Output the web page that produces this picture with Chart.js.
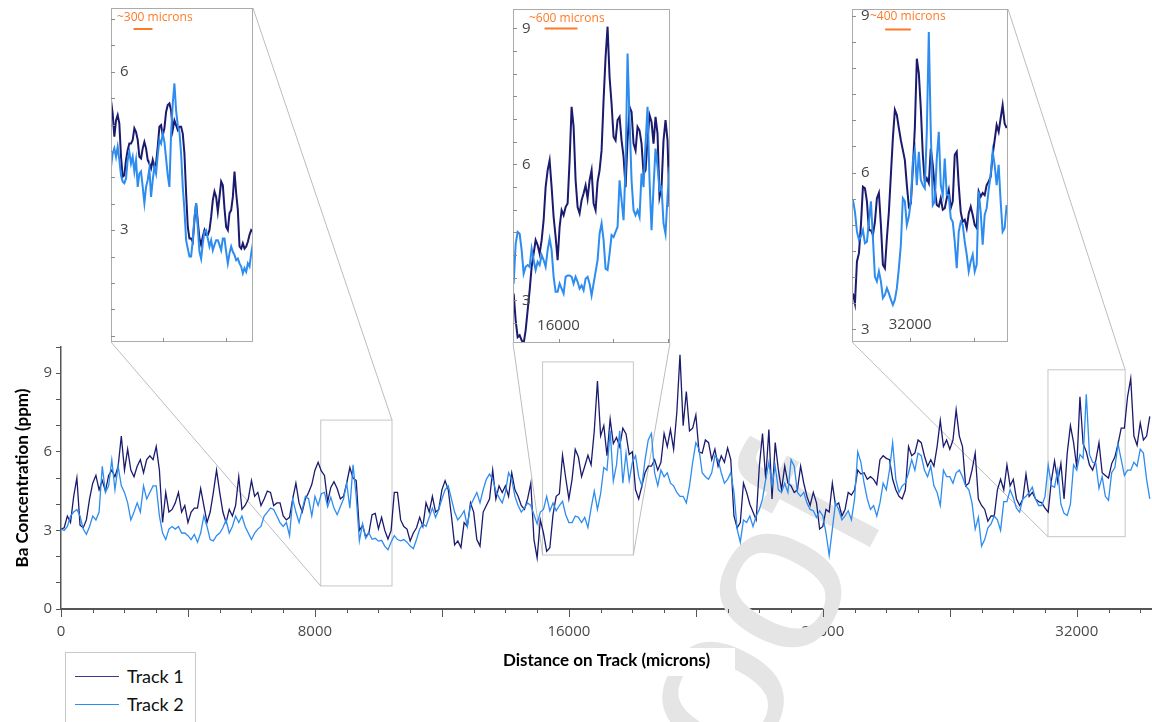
<!DOCTYPE html>
<html>
<head>
<meta charset="utf-8">
<title>Ba Concentration along tracks</title>
<script src="https://cdn.jsdelivr.net/npm/chart.js@4.4.1/dist/chart.umd.min.js"></script>
<style>
  html, body { margin: 0; padding: 0; background: #fff; }
  #page { position: relative; width: 1152px; height: 722px; overflow: hidden; background: #fff; }
  canvas { position: absolute; display: block; }
  #legend {
    position: absolute; left: 65px; top: 652px; width: 131px; height: 90px;
    border: 1px solid #c9c9c9; box-sizing: border-box; background: #fff;
    font-family: Lato, sans-serif; font-size: 18px; color: #111;
  }
  #legend .row { position: absolute; left: 9px; height: 22px; display: flex; align-items: center; }
  #legend .sw { display: inline-block; width: 44px; height: 0; border-top: 1.5px solid; margin-right: 8px; }
</style>
</head>
<body>
<div id="page">
  <canvas id="main" width="1152" height="722" style="left:0;top:0"></canvas>
  <canvas id="inset1" width="142" height="334" style="left:111px;top:8px"></canvas>
  <canvas id="inset2" width="157" height="334" style="left:513px;top:9px"></canvas>
  <canvas id="inset3" width="156" height="333" style="left:852px;top:9px"></canvas>
  <div id="legend">
    <div class="row" style="top:12px"><span class="sw" style="border-color:#3b3b8f"></span>Track 1</div>
    <div class="row" style="top:40px"><span class="sw" style="border-color:#2d8cf0"></span>Track 2</div>
  </div>
</div>
<script>
// Ba concentration (ppm) sampled every 100 microns along each track, from 0 microns
const SAMPLE_STEP = 100;
const track1 = [
  3.05,3.1,3.55,3.3,4.3,5.0,3.2,3.1,3.4,4.2,
  4.8,5.1,4.55,4.9,4.5,5.1,5.3,5.05,5.45,6.6,
  5.3,6.1,5.3,5.05,5.45,5.7,5.2,5.7,5.85,5.7,
  6.2,5.3,3.3,4.45,3.7,3.8,4.05,4.45,3.7,3.95,
  3.3,3.7,3.85,3.85,4.6,3.95,3.3,3.7,4.45,5.3,
  4.45,3.7,3.3,3.8,3.55,3.95,5.05,3.8,3.95,4.2,
  4.9,4.3,4.45,3.95,4.2,4.5,4.45,3.95,4.05,4.05,
  3.55,3.4,3.5,4.2,4.8,4.05,3.7,4.2,4.45,4.75,
  5.3,5.6,5.27,5.1,4.1,4.64,4.86,4.6,4.2,4.3,
  4.8,5.4,5.0,4.9,3.0,3.19,2.75,2.91,3.6,3.65,
  3.06,3.5,3.0,2.67,3.0,4.45,4.45,3.4,3.15,3.05,
  2.6,2.9,3.1,3.5,3.15,4.05,3.7,4.3,3.7,3.8,
  4.55,4.9,4.55,3.55,2.45,2.6,2.35,3.3,3.15,4.05,
  3.7,2.65,2.4,3.7,3.95,4.2,5.3,4.2,4.7,4.45,
  4.7,4.3,5.2,4.55,4.3,3.95,3.8,4.2,4.8,2.65,
  1.95,3.4,2.9,2.2,2.34,3.6,4.3,4.4,5.87,5.0,
  4.2,4.95,6.09,5.8,5.05,5.45,5.87,5.5,6.8,8.7,
  6.61,7.0,5.85,7.25,6.31,6.55,6.2,6.9,6.68,5.9,
  6.0,4.55,4.2,4.7,5.2,5.45,5.45,5.7,5.3,5.6,
  6.7,6.2,6.85,6.1,7.5,9.7,7.0,8.3,6.8,6.9,
  7.4,6.0,5.95,6.45,6.35,5.7,6.1,5.45,5.85,5.6,
  6.15,5.7,3.55,3.1,3.3,4.8,4.45,4.0,3.7,3.4,
  5.45,6.7,4.95,6.85,4.2,6.35,5.3,4.55,5.45,4.8,
  4.7,4.45,4.55,5.45,4.8,4.3,3.95,4.45,4.05,3.05,
  3.15,3.8,3.7,4.8,3.95,4.05,3.55,3.8,4.45,4.35,
  4.55,5.3,5.15,5.2,4.95,5.05,4.95,4.75,5.7,5.85,
  5.75,5.7,4.95,4.55,4.3,4.2,4.55,6.2,5.85,5.95,
  6.45,6.35,5.85,5.45,5.7,5.45,6.2,7.2,6.2,6.45,
  6.1,6.45,7.6,6.6,6.2,4.7,4.8,5.3,5.95,4.2,
  3.95,3.8,3.35,3.55,3.55,4.55,4.95,4.55,5.5,4.7,
  4.95,4.2,3.95,4.2,5.15,4.3,4.45,4.2,4.1,4.05,
  3.85,3.7,4.9,5.65,4.85,5.55,4.2,5.96,7.0,6.35,
  5.4,8.1,6.3,6.0,5.5,5.3,5.67,6.35,5.2,5.1,
  5.0,5.55,5.8,6.3,6.9,6.9,8.1,8.8,6.6,6.25,
  7.1,6.45,6.6,7.35
];
const track2 = [
  3.05,3.0,3.15,3.55,3.7,3.8,3.55,3.05,2.85,3.15,
  3.55,3.4,3.7,5.45,4.45,4.7,5.7,4.55,5.45,4.7,
  4.45,4.05,3.4,3.7,4.05,3.7,4.7,4.2,4.45,4.7,
  4.7,3.55,2.9,2.65,3.05,3.15,3.05,3.15,2.9,2.9,
  2.8,2.65,2.85,2.55,2.9,3.55,3.15,2.65,2.6,2.8,
  2.9,3.1,3.4,2.9,3.15,3.55,3.3,3.55,3.15,2.9,
  2.65,2.9,3.05,3.15,3.55,3.7,3.85,3.8,3.55,3.3,
  3.15,3.3,2.8,4.2,3.7,3.3,3.8,4.3,4.2,3.55,
  4.3,3.95,4.4,4.45,3.9,4.26,3.85,3.6,3.9,4.2,
  4.8,3.85,5.5,4.3,2.6,3.25,2.7,2.9,2.66,2.7,
  2.59,2.62,2.4,2.26,2.56,2.8,2.65,2.6,2.65,2.55,
  2.4,2.3,2.65,3.05,3.25,3.15,3.5,3.85,3.5,3.8,
  4.2,4.55,4.7,4.2,3.7,3.4,3.55,3.75,3.15,3.95,
  4.2,4.45,4.05,4.55,4.95,5.15,4.95,4.5,4.25,4.05,
  4.45,5.2,4.95,4.3,3.95,3.7,3.85,4.05,3.95,3.6,
  3.25,3.7,3.8,4.3,3.74,4.05,3.75,3.95,4.11,3.6,
  3.3,3.3,3.55,3.5,3.3,3.5,3.11,3.85,4.5,3.8,
  4.4,5.4,5.3,6.8,4.88,5.5,6.8,4.8,5.95,4.9,
  5.6,5.85,5.05,4.7,5.7,6.45,6.7,5.2,4.7,5.3,
  5.05,5.2,4.8,4.7,4.45,4.3,4.3,4.05,4.7,5.6,
  6.35,6.1,5.2,5.05,4.95,5.2,5.85,5.7,5.2,4.8,
  4.95,5.2,4.45,3.05,2.55,3.4,3.3,3.55,3.15,3.55,
  3.8,4.2,4.95,5.6,4.7,5.45,4.55,4.45,4.8,4.45,
  5.7,5.45,4.45,4.3,4.45,4.05,3.8,3.75,3.5,3.75,
  3.55,2.9,2.05,3.05,4.05,3.8,3.4,3.55,3.75,3.4,
  4.2,6.0,5.6,4.8,4.2,3.8,3.95,3.55,4.05,4.8,
  4.55,5.3,6.35,4.95,4.45,4.7,4.8,5.2,5.7,5.3,
  5.95,5.85,5.3,5.05,5.45,4.7,4.45,3.95,5.3,5.05,
  5.05,4.8,5.2,5.3,5.05,4.7,4.55,4.05,3.05,3.5,
  2.4,2.65,3.1,3.25,3.55,3.4,3.0,4.1,4.1,4.55,
  4.25,3.85,3.7,4.2,4.3,4.45,4.65,4.2,3.95,3.95,
  4.3,5.5,4.71,4.65,5.3,4.0,3.65,3.57,4.0,5.5,
  5.3,5.9,5.75,8.2,5.9,5.6,5.57,4.6,5.05,4.3,
  4.15,5.2,5.4,6.3,5.7,5.1,5.3,5.3,5.6,5.45,
  6.1,5.95,4.95,4.2
];

// Finer sampling inside the three magnified windows
const inset1Start = 8182, inset1Step = 26.4;
const inset1Track1 = [
  5.46,5.21,4.77,5.08,5.18,5.02,4.39,4.01,4.04,4.33,
  4.52,4.64,4.64,4.71,4.93,4.86,4.71,4.39,4.36,4.55,
  4.67,4.55,4.33,4.26,4.17,4.33,4.2,4.26,4.58,4.96,
  4.99,4.8,4.93,5.24,5.37,5.4,5.27,4.9,5.08,4.99,
  4.9,4.96,4.96,4.83,4.45,3.7,3.06,2.84,2.84,2.78,
  3.19,3.51,3.16,2.84,2.72,2.88,3.0,2.91,2.91,3.0,
  3.25,3.57,3.73,3.63,3.35,3.63,3.92,3.85,3.41,3.06,
  3.0,3.32,3.38,3.63,4.11,3.7,3.38,2.69,2.65,2.75,
  2.65,2.69,2.78,2.91,3.0,2.97
];
const inset1Track2 = [
  4.2,4.45,4.55,4.39,4.58,4.33,4.04,3.92,3.89,3.98,
  4.33,4.48,4.26,4.39,4.11,4.33,3.82,4.07,4.11,3.82,
  3.51,3.82,3.95,4.17,3.63,3.95,4.2,4.07,4.42,4.71,
  4.64,4.83,4.67,4.36,4.04,3.82,4.83,5.4,5.78,5.27,
  4.99,4.86,4.45,3.82,3.38,2.81,2.65,2.5,2.5,2.81,
  3.25,3.51,3.06,2.59,2.46,2.75,2.97,3.0,2.84,2.69,
  2.81,2.62,2.72,2.81,2.81,2.72,2.62,2.84,2.84,2.59,
  2.37,2.56,2.69,2.59,2.53,2.43,2.46,2.37,2.31,2.18,
  2.28,2.21,2.37,2.31,2.56,2.75
];
const inset2Start = 15183, inset2Step = 36.4;
const inset2Track1 = [
  3.15,2.56,2.19,2.23,2.12,2.05,2.34,2.78,3.22,3.74,
  4.03,4.33,4.22,4.03,4.33,4.77,5.5,5.87,6.09,5.5,
  4.84,4.4,3.89,4.62,4.99,4.88,5.06,5.14,6.09,7.27,
  6.83,5.65,5.06,4.92,5.21,5.36,5.54,5.25,5.65,5.87,
  5.14,4.99,5.62,5.87,6.31,7.42,8.37,9.04,7.93,7.34,
  6.61,6.53,6.98,7.05,6.53,6.17,5.5,6.53,7.27,7.16,
  6.46,6.31,6.83,6.75,6.46,5.8,5.87,6.53,7.09,6.94,
  6.46,7.05,6.68,5.28,5.5,6.53,6.98,6.53,5.06
];
const inset2Track2 = [
  3.37,4.25,4.51,4.47,4.11,3.59,3.74,3.78,3.74,4.14,
  3.89,3.67,3.85,3.78,4.0,3.89,3.74,4.11,4.36,4.11,
  3.52,3.19,3.19,3.37,3.26,3.15,3.52,3.55,3.55,3.52,
  3.37,3.52,3.41,3.26,3.33,3.22,3.48,3.52,3.37,3.11,
  3.37,3.63,3.89,4.47,4.7,4.33,3.7,3.67,4.03,4.44,
  4.4,4.51,4.62,5.65,5.21,4.77,5.95,8.45,7.0,5.65,
  4.99,4.88,4.99,4.84,5.8,5.5,6.46,7.27,5.65,4.55,
  5.5,6.35,5.95,5.43,5.5,4.7,4.47,5.28,5.95
];
const inset3Start = 31108, inset3Step = 31.1;
const inset3Track1 = [
  3.69,3.5,4.3,4.46,5.0,5.73,5.7,5.45,4.9,4.9,
  4.81,5.06,5.51,5.61,5.0,4.24,4.17,4.75,5.25,5.96,
  6.66,7.2,7.1,6.85,6.62,6.43,6.24,5.76,5.35,5.41,
  6.08,6.85,8.18,7.9,7.23,6.34,5.8,5.89,5.8,6.46,
  6.15,5.7,5.38,5.35,5.51,5.29,5.32,5.51,5.67,5.32,
  5.45,6.34,6.4,5.76,5.25,5.06,5.1,4.94,5.22,5.35,
  5.19,5.0,4.94,5.64,5.54,5.61,5.57,5.76,5.83,5.92,
  6.34,6.62,6.91,6.78,7.04,7.29,6.94,6.85
];
const inset3Track2 = [
  5.48,5.25,4.87,4.71,4.78,4.9,4.65,4.68,5.06,5.45,
  4.75,4.01,3.92,4.11,3.92,3.6,3.66,3.79,3.69,3.57,
  3.47,3.57,3.79,4.17,4.62,5.51,5.45,5.0,5.16,5.45,
  6.21,6.43,5.76,6.4,5.86,5.76,5.7,6.78,8.69,6.78,
  5.38,5.45,6.27,6.78,5.76,5.57,6.27,5.57,5.57,5.13,
  5.06,4.68,4.17,4.87,5.06,5.0,4.68,4.43,4.11,4.3,
  4.43,4.11,4.24,5.64,5.25,4.62,5.19,5.32,5.67,5.96,
  6.4,6.15,5.76,6.15,5.45,4.87,4.94,5.38
];

// Axis ranges and labels
const xLimits = [0, 34370];
const yLimits = [0, 10];
const xLabelValues = [0, 8000, 16000, 24000, 32000];
const yLabelValues = [0, 3, 6, 9];

const COLOR_T1 = '#1a1a6e';
const COLOR_T2 = '#2d8cf0';
const ORANGE = '#ff7a26';

const toPoints = (vals, start, step) => vals.map((v, i) => ({ x: start + i * step, y: v }));

// Magnified windows: data window, on-page pane, connector corners and annotations
const insets = [
  { id: 'inset1', xMin: 8182, xMax: 10428, yMin: 0.88, yMax: 7.21,
    t1: inset1Track1, t2: inset1Track2, start: inset1Start, step: inset1Step,
    pane: [111, 8, 142, 334], links: ['bl', 'tr'],
    yLabels: [6, 3], xLabels: [],
    barText: '~300 microns', barMicrons: 300, textAt: [6, 10], barAt: [32, 21] },
  { id: 'inset2', xMin: 15171, xMax: 18031, yMin: 2.06, yMax: 9.43,
    t1: inset2Track1, t2: inset2Track2, start: inset2Start, step: inset2Step,
    pane: [513, 9, 157, 334], links: ['bl', 'br'],
    yLabels: [9, 6, 3], xLabels: [16000],
    barText: '~600 microns', barMicrons: 600, textAt: [16, 10], barAt: [48, 19.5] },
  { id: 'inset3', xMin: 31093, xMax: 33524, yMin: 2.76, yMax: 9.13,
    t1: inset3Track1, t2: inset3Track2, start: inset3Start, step: inset3Step,
    pane: [852, 9, 156, 333], links: ['bl', 'tr'],
    yLabels: [9, 6, 3], xLabels: [32000],
    barText: '~400 microns', barMicrons: 400, textAt: [18, 8], barAt: [46, 20.5] }
];

// Watermark, zoom frames and leader lines on the main chart
const mainDecor = {
  id: 'mainDecor',
  beforeDatasetsDraw(chart) {
    const { ctx, scales: { x, y } } = chart;
    ctx.save();
    // keep the x-axis title clear of the watermark
    ctx.beginPath();
    ctx.rect(0, 0, chart.width, chart.height);
    ctx.rect(480, 648, 255, 28);
    ctx.clip('evenodd');
    ctx.translate(654, 953);
    ctx.rotate(-62 * Math.PI / 180);
    ctx.font = '220px "Liberation Sans"';
    ctx.fillStyle = '#e5e5e5';
    ctx.textAlign = 'left';
    ctx.textBaseline = 'alphabetic';
    ctx.fillText('proof', 0, 0);
    ctx.restore();

    ctx.save();
    ctx.lineWidth = 1;
    insets.forEach(ins => {
      const l = x.getPixelForValue(ins.xMin), r = x.getPixelForValue(ins.xMax);
      const t = y.getPixelForValue(ins.yMax), b = y.getPixelForValue(ins.yMin);
      ctx.strokeStyle = '#c6c6c6';
      ctx.strokeRect(l, t, r - l, b - t);
      const frame = { tl: [l, t], tr: [r, t], bl: [l, b], br: [r, b] };
      const [L, T, W, H] = ins.pane;
      const pane = { tl: [L, T], tr: [L + W, T], bl: [L, T + H], br: [L + W, T + H] };
      ctx.strokeStyle = '#bdbdbd';
      ins.links.forEach(c => {
        ctx.beginPath();
        ctx.moveTo(pane[c][0], pane[c][1]);
        ctx.lineTo(frame[c][0], frame[c][1]);
        ctx.stroke();
      });
    });
    ctx.restore();
  },
  afterDatasetsDraw(chart) {
    const { ctx, scales: { x, y } } = chart;
    const base = y.getPixelForValue(0);
    ctx.save();
    ctx.strokeStyle = '#555';
    ctx.lineWidth = 1;
    ctx.beginPath();
    for (let v = 0; v <= x.max; v += 1000) {
      const px = Math.round(x.getPixelForValue(v)) + 0.5;
      const len = v % 4000 === 0 ? 8 : 4;
      ctx.moveTo(px, base);
      ctx.lineTo(px, base + len);
    }
    ctx.stroke();
    ctx.restore();
  }
};

new Chart(document.getElementById('main'), {
  type: 'line',
  data: {
    datasets: [
      { label: 'Track 1', data: toPoints(track1, 0, SAMPLE_STEP), borderColor: COLOR_T1, borderWidth: 1.3, order: 2 },
      { label: 'Track 2', data: toPoints(track2, 0, SAMPLE_STEP), borderColor: COLOR_T2, borderWidth: 1.3, order: 1 }
    ]
  },
  options: {
    responsive: false,
    animation: false,
    layout: { padding: { top: 347, left: 0, right: 0, bottom: 47 } },
    elements: { point: { radius: 0 }, line: { tension: 0 } },
    plugins: { legend: { display: false }, tooltip: { enabled: false } },
    scales: {
      x: {
        type: 'linear', min: xLimits[0], max: xLimits[1],
        afterBuildTicks(s) { s.ticks = xLabelValues.map(v => ({ value: v })); },
        afterFit(s) { s.height = 66; },
        border: { color: '#555', width: 2 },
        grid: { drawOnChartArea: false, drawTicks: false },
        ticks: {
          autoSkip: false, maxRotation: 0, padding: 14,
          color: '#4a4a4a', font: { family: '"Open Sans"', size: 15 },
          callback: v => String(v)
        },
        title: {
          display: true, text: 'Distance on Track (microns)', color: '#000',
          font: { family: 'Lato', size: 17, weight: 'bold' }, padding: { top: 0, bottom: 4 }
        }
      },
      y: {
        min: yLimits[0], max: yLimits[1],
        afterFit(s) { s.width = 61; },
        border: { color: '#555', width: 1.5 },
        grid: { drawOnChartArea: false, drawTicks: true, tickLength: 5, color: '#555' },
        ticks: {
          stepSize: 1, autoSkip: false, padding: 4,
          color: '#4a4a4a', font: { family: '"Open Sans"', size: 15 },
          callback: v => (yLabelValues.includes(v) ? String(v) : '')
        },
        title: {
          display: true, text: 'Ba Concentration (ppm)', color: '#000',
          font: { family: 'Lato', size: 17, weight: 'bold' }, padding: { top: 12, bottom: 0 }
        }
      }
    }
  },
  plugins: [mainDecor]
});

// Frame, ticks, tick labels and scale bar inside each magnified pane
const insetDecor = {
  id: 'insetDecor',
  beforeDraw(chart) {
    const { ctx, width, height } = chart;
    ctx.save();
    ctx.fillStyle = '#fff';
    ctx.fillRect(0, 0, width, height);
    ctx.restore();
  },
  afterDatasetsDraw(chart, args, o) {
    const { ctx, scales: { x, y }, width: w, height: h } = chart;
    ctx.save();
    ctx.strokeStyle = '#ababab';
    ctx.lineWidth = 1;
    ctx.strokeRect(0.5, 0.5, w - 1, h - 1);

    ctx.strokeStyle = '#8c8c8c';
    ctx.beginPath();
    for (let v = Math.ceil(y.min * 2) / 2; v <= y.max; v += 0.5) {
      const py = Math.round(y.getPixelForValue(v)) + 0.5;
      ctx.moveTo(0, py); ctx.lineTo(4, py);
    }
    for (let v = Math.ceil(x.min / 1000) * 1000; v <= x.max; v += 1000) {
      const px = Math.round(x.getPixelForValue(v)) + 0.5;
      ctx.moveTo(px, h); ctx.lineTo(px, h - 4);
    }
    ctx.stroke();

    ctx.fillStyle = '#444';
    ctx.font = '15px "Open Sans"';
    ctx.textBaseline = 'middle';
    ctx.textAlign = 'left';
    o.yLabels.forEach(v => ctx.fillText(String(v), 9, y.getPixelForValue(v)));
    ctx.textAlign = 'center';
    o.xLabels.forEach(v => ctx.fillText(String(v), x.getPixelForValue(v), h - 17));

    ctx.fillStyle = ORANGE;
    ctx.font = '12px "Open Sans"';
    ctx.textAlign = 'left';
    ctx.fillText(o.barText, o.textAt[0], o.textAt[1]);
    const len = x.getPixelForValue(x.min + o.barMicrons) - x.getPixelForValue(x.min);
    ctx.strokeStyle = ORANGE;
    ctx.lineWidth = 2;
    ctx.beginPath();
    ctx.moveTo(o.barAt[0] - len / 2, o.barAt[1]);
    ctx.lineTo(o.barAt[0] + len / 2, o.barAt[1]);
    ctx.stroke();
    ctx.restore();
  }
};

insets.forEach(ins => {
  new Chart(document.getElementById(ins.id), {
    type: 'line',
    data: {
      datasets: [
        { label: 'Track 1', data: toPoints(ins.t1, ins.start, ins.step), borderColor: COLOR_T1, borderWidth: 2, order: 2 },
        { label: 'Track 2', data: toPoints(ins.t2, ins.start, ins.step), borderColor: COLOR_T2, borderWidth: 2, order: 1 }
      ]
    },
    options: {
      responsive: false,
      animation: false,
      layout: { padding: 0 },
      elements: { point: { radius: 0 }, line: { tension: 0 } },
      plugins: { legend: { display: false }, tooltip: { enabled: false }, insetDecor: ins },
      scales: {
        x: { type: 'linear', display: false, min: ins.xMin, max: ins.xMax },
        y: { display: false, min: ins.yMin, max: ins.yMax }
      }
    },
    plugins: [insetDecor]
  });
});
</script>
</body>
</html>
